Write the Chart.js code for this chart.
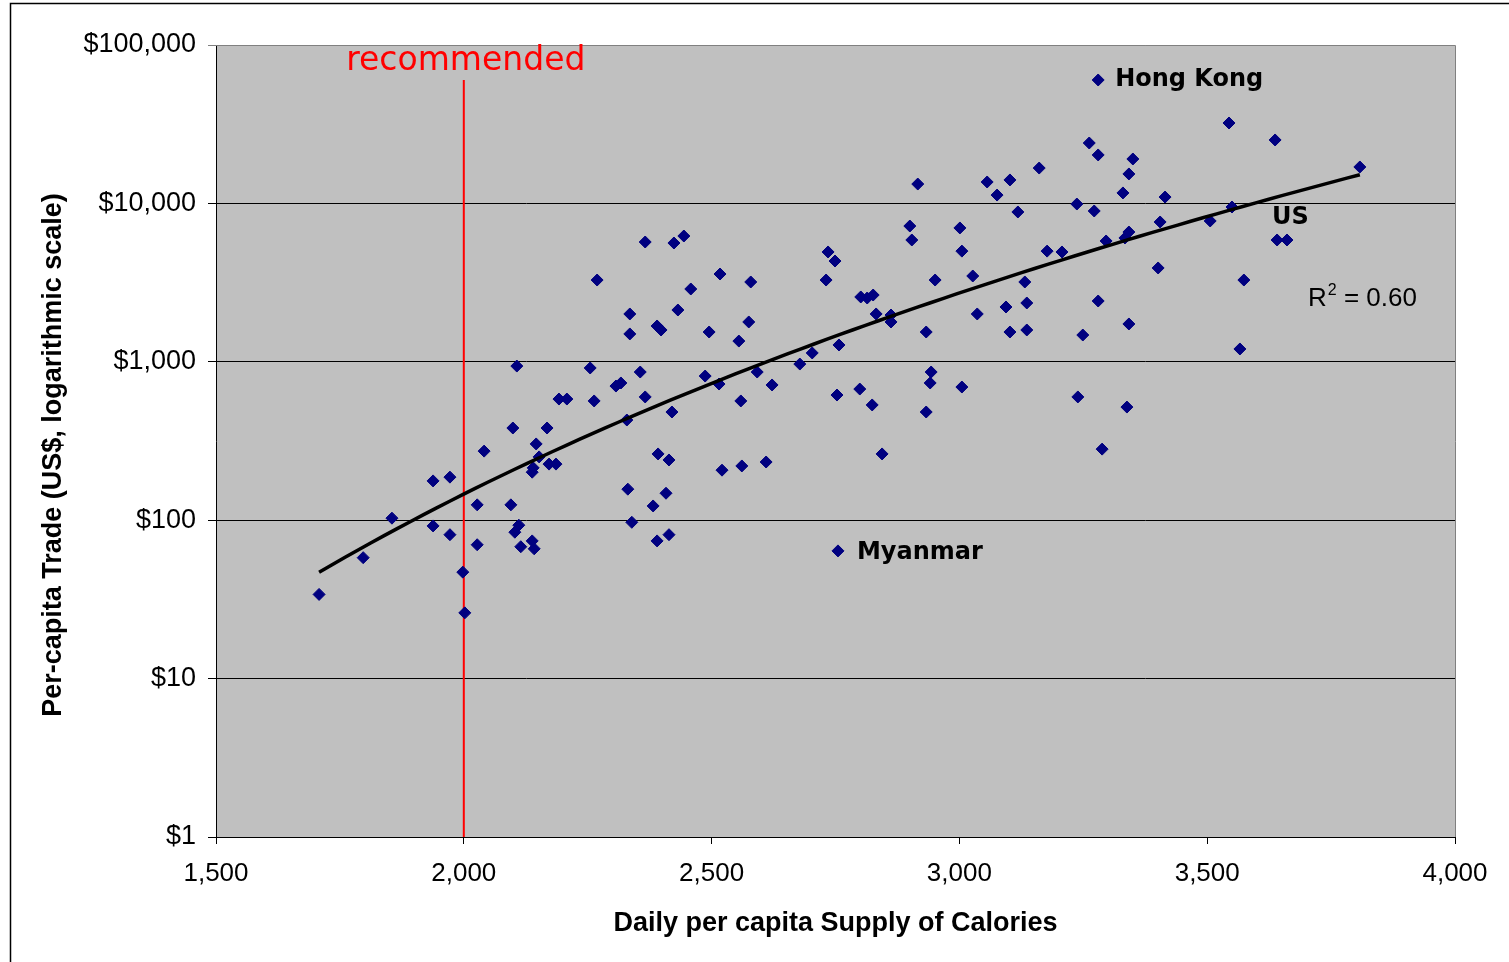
<!DOCTYPE html>
<html>
<head>
<meta charset="utf-8">
<script src="https://cdn.jsdelivr.net/npm/chart.js@4/dist/chart.umd.min.js"></script>
<style>
html, body { margin: 0; padding: 0; background: #fff; }
canvas { display: block; }
</style>
</head>
<body>
<canvas id="tradeChart" width="1509" height="962"></canvas>
<script>
// daily calories supply per person (x) and per-capita trade in US$ (y), one entry per country
const calories = [
  1708, 1797, 1855, 1938, 1972, 1938, 1972, 1998, 2002, 2041,
  2027, 2027, 2099, 2107, 2095, 2103, 2111, 2115, 2138, 2142,
  2138, 2140, 2146, 2152, 2168, 2172, 2186, 2192, 2208, 2255,
  2263, 2269, 2307, 2317, 2329, 2331, 2335, 2335, 2339, 2356,
  2366, 2366, 2382, 2390, 2398, 2390, 2392, 2408, 2414, 2414,
  2420, 2424, 2432, 2444, 2458, 2487, 2495, 2515, 2517, 2521,
  2555, 2559, 2561, 2575, 2579, 2592, 2610, 2622, 2678, 2703,
  2731, 2735, 2749, 2753, 2755, 2757, 2799, 2801, 2814, 2826,
  2824, 2832, 2844, 2862, 2862, 2900, 2904, 2916, 2933, 2933,
  2941, 2943, 2951, 3001, 3005, 3005, 3027, 3036, 3056, 3076,
  3094, 3102, 3102, 3118, 3132, 3136, 3136, 3161, 3177, 3207,
  3237, 3239, 3249, 3262, 3272, 3280, 3280, 3280, 3288, 3296,
  3330, 3334, 3342, 3342, 3342, 3338, 3350, 3401, 3405, 3415,
  3506, 3544, 3550, 3566, 3574, 3637, 3641, 3661, 3808
];
const tradePerCapita = [
  34, 58, 103, 177, 187, 92, 81, 47, 26, 273,
  125, 70, 382, 940, 125, 84, 93, 68, 74, 66,
  201, 214, 303, 251, 382, 226, 226, 582, 582, 914,
  566, 3283, 703, 735, 429, 157, 2004, 1499, 97, 862,
  600, 5705, 123, 1683, 1588, 74, 262, 148, 240, 81,
  482, 5623, 2123, 6225, 2882, 813, 1542, 724, 3583, 207,
  1352, 566, 220, 1784, 3190, 862, 233, 714, 968, 1137,
  3283, 4935, 4327, 617, 64, 1277, 673, 2566, 2528, 2640,
  534, 2004, 262, 1784, 1974, 7198, 5875, 13250, 482, 1542,
  735, 862, 3283, 6998, 4997, 693, 3481, 2004, 13650, 11290,
  2218, 14060, 1542, 8825, 3190, 2351, 1588, 16720, 4997, 4935,
  9910, 600, 1476, 24060, 8955, 60130, 20220, 2420, 281, 5790,
  11640, 6050, 15340, 6596, 1733, 518, 19070, 3911, 7632, 10970,
  7745, 32180, 9490, 1205, 3283, 25140, 5875, 5875, 16980
];

const namedCountries = ['Hong Kong', 'US', 'Myanmar'];
const namedCalories = [3280, 3641, 2755];
const namedTrade = [60130, 5875, 64];

const xTickValues = [1500, 2000, 2500, 3000, 3500, 4000];
const yTickValues = [1, 10, 100, 1000, 10000, 100000];
const recommendedCalories = 2000;
const rSquaredText = '0.60';
const yTitle = 'Per-capita Trade (US$, logarithmic scale)';

// power trendline (like Excel): ln(y) = ln(a) + b * ln(x), fitted on the points above
function powerFit(xs, ys) {
  const n = xs.length;
  let sx = 0, sy = 0, sxx = 0, sxy = 0;
  for (let i = 0; i < n; i++) {
    const lx = Math.log(xs[i]), ly = Math.log(ys[i]);
    sx += lx; sy += ly; sxx += lx * lx; sxy += lx * ly;
  }
  const b = (n * sxy - sx * sy) / (n * sxx - sx * sx);
  const a = Math.exp((sy - b * sx) / n);
  return { a, b };
}
const fit = powerFit(calories, tradePerCapita);
const xMin = Math.min(...calories), xMax = Math.max(...calories);
const trendPoints = [];
for (let i = 0; i <= 80; i++) {
  const x = xMin + (xMax - xMin) * i / 80;
  trendPoints.push({ x: x, y: fit.a * Math.pow(x, fit.b) });
}

const scatterPoints = calories.map((c, i) => ({ x: c, y: tradePerCapita[i] }));

const chartDecor = {
  id: 'chartDecor',
  beforeDraw(chart) {
    const { ctx, chartArea: a } = chart;
    ctx.save();
    ctx.fillStyle = '#fff';
    ctx.fillRect(0, 0, chart.width, chart.height);
    ctx.fillStyle = '#C0C0C0';
    ctx.fillRect(a.left, a.top, a.right - a.left, a.bottom - a.top);
    ctx.restore();
  },
  beforeDatasetsDraw(chart) {
    const { ctx, chartArea: a, scales } = chart;
    const xr = scales.x.getPixelForValue(recommendedCalories);
    ctx.save();
    ctx.strokeStyle = '#FF0000';
    ctx.lineWidth = 2;
    ctx.beginPath();
    ctx.moveTo(xr, a.top + 35);
    ctx.lineTo(xr, a.bottom);
    ctx.stroke();
    ctx.restore();
  },
  afterDraw(chart) {
    const { ctx, chartArea: a, scales } = chart;
    ctx.save();
    // plot frame top/right in grey
    ctx.strokeStyle = '#808080';
    ctx.lineWidth = 1;
    ctx.beginPath();
    ctx.moveTo(a.left, a.top + 0.5);
    ctx.lineTo(a.right + 0.5, a.top + 0.5);
    ctx.lineTo(a.right + 0.5, a.bottom);
    ctx.stroke();

    // outer chart border
    ctx.strokeStyle = '#000';
    ctx.lineWidth = 1.5;
    ctx.strokeRect(10.5, 3.5, chart.width + 20, chart.height + 20);

    // y axis title, a bit lower than the plot centre as in the original
    ctx.fillStyle = '#000';
    ctx.font = 'bold 27px "Liberation Sans"';
    ctx.textAlign = 'center';
    ctx.textBaseline = 'middle';
    ctx.translate(54, (a.top + a.bottom) / 2 + 14);
    ctx.rotate(-Math.PI / 2);
    ctx.fillText(yTitle, 0, 0);
    ctx.setTransform(1, 0, 0, 1, 0, 0);

    // recommended label
    const xr = scales.x.getPixelForValue(recommendedCalories);
    ctx.fillStyle = '#FF0000';
    ctx.font = '33px "DejaVu Sans"';
    ctx.textAlign = 'center';
    ctx.textBaseline = 'alphabetic';
    ctx.fillText('recommended', xr + 2, a.top + 25);

    // country labels
    ctx.fillStyle = '#000';
    ctx.font = 'bold 24px "DejaVu Sans"';
    ctx.textAlign = 'left';
    ctx.textBaseline = 'middle';
    const offsets = { 'Hong Kong': [17, 0], 'US': [-5, -22], 'Myanmar': [19, 2] };
    namedCountries.forEach((name, i) => {
      const px = scales.x.getPixelForValue(namedCalories[i]);
      const py = scales.y.getPixelForValue(namedTrade[i]);
      const o = offsets[name];
      ctx.fillText(name, px + o[0], py + o[1]);
    });

    // R squared
    const rx = a.right - 147, ry = a.top + 261;
    ctx.textBaseline = 'alphabetic';
    ctx.font = '26px "Liberation Sans"';
    ctx.fillText('R', rx, ry);
    const rw = ctx.measureText('R').width;
    ctx.font = '16px "Liberation Sans"';
    ctx.fillText('2', rx + rw + 1, ry - 11);
    const sw = ctx.measureText('2').width;
    ctx.font = '26px "Liberation Sans"';
    ctx.fillText(' = ' + rSquaredText, rx + rw + sw + 1, ry);
    ctx.restore();
  }
};

const titleFont = { family: 'Liberation Sans', size: 27, weight: 'bold' };

new Chart(document.getElementById('tradeChart').getContext('2d'), {
  type: 'scatter',
  data: {
    datasets: [
      {
        type: 'line',
        data: trendPoints,
        borderColor: '#000',
        borderWidth: 3.5,
        pointRadius: 0,
        fill: false,
        tension: 0
      },
      {
        data: scatterPoints,
        pointStyle: 'rectRot',
        pointRadius: 6,
        backgroundColor: '#000080',
        borderColor: '#000080',
        borderWidth: 1
      }
    ]
  },
  options: {
    responsive: false,
    animation: false,
    layout: { padding: { top: 45, right: 54, bottom: 0, left: 0 } },
    plugins: { legend: { display: false }, tooltip: { enabled: false } },
    scales: {
      x: {
        type: 'linear',
        min: 1500,
        max: 4000,
        afterBuildTicks: s => { s.ticks = xTickValues.map(v => ({ value: v })); },
        afterFit: s => { s.height = 125; },
        ticks: { color: '#000', font: { family: 'Liberation Sans', size: 26 }, padding: 14, callback: v => v.toLocaleString('en-US') },
        grid: { drawOnChartArea: false, drawTicks: true, tickLength: 7, color: '#000' },
        border: { color: '#000', width: 1 },
        title: { display: true, text: 'Daily per capita Supply of Calories', color: '#000', font: titleFont, padding: { top: 0, bottom: 22 } }
      },
      y: {
        type: 'logarithmic',
        min: 1,
        max: 100000,
        afterBuildTicks: s => { s.ticks = yTickValues.map(v => ({ value: v })); },
        afterFit: s => { s.width = 216; },
        ticks: { color: '#000', font: { family: 'Liberation Sans', size: 27 }, padding: 12, callback: v => '$' + v.toLocaleString('en-US') },
        grid: {
          color: c => (c.tick && c.tick.value === 100000) ? '#808080' : '#000',
          lineWidth: 1,
          tickLength: 8
        },
        border: { color: '#000', width: 1 }
      }
    }
  },
  plugins: [chartDecor]
});
</script>
</body>
</html>
